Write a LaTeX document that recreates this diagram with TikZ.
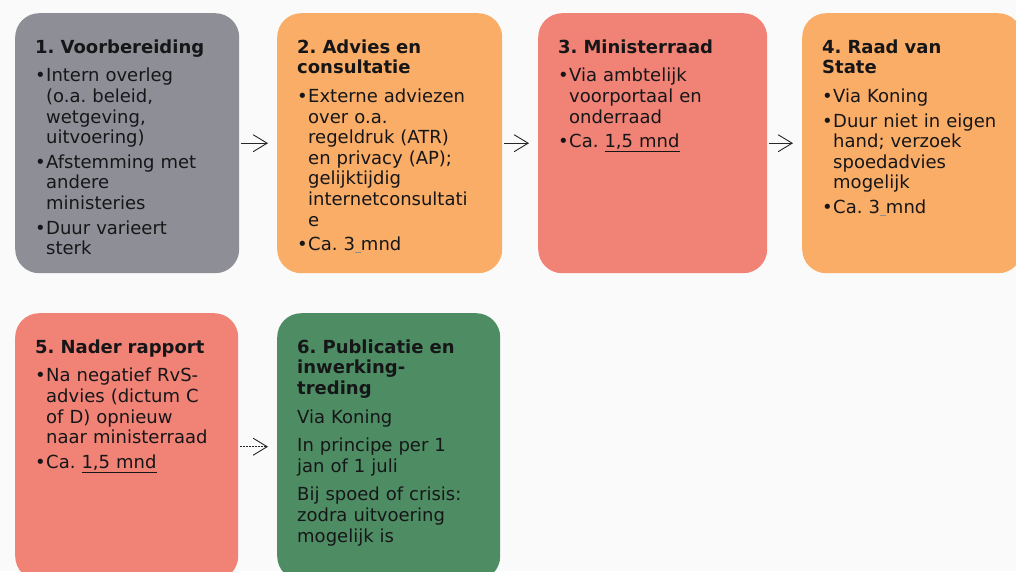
\documentclass[tikz,border=0pt]{standalone}
\usepackage{fontspec}
\setmainfont{DejaVu Sans}
\usetikzlibrary{arrows.meta}

\definecolor{achtergrond}{RGB}{250,250,250}
\definecolor{grijs}{RGB}{142,143,150}
\definecolor{oranje}{RGB}{250,173,103}
\definecolor{zalm}{RGB}{240,130,118}
\definecolor{groen}{RGB}{78,141,100}
\definecolor{inkt}{RGB}{22,22,24}

% kop, opsommingsteken en gewone alinea in een vak
\newcommand{\kop}[1]{\noindent\textbf{#1}\par\addvspace{8pt}}
\newcommand{\punt}{\par\addvspace{4pt}\hangindent=11pt\hangafter=1\noindent\makebox[11pt][l]{\textbullet}}
\newcommand{\alinea}{\par\addvspace{8pt}\noindent}
\newcommand{\streep}{{\color{black!45}\underline{\ }}}

\tikzset{
  vak/.style={anchor=north west, rounded corners=24pt, inner xsep=20pt, inner ysep=13pt,
    text height=27pt, text depth=207pt, align=left, text=inkt,
    font=\fontsize{18pt}{20.6pt}\selectfont\frenchspacing},
  pijl/.style={draw=black!85, line width=0.9pt, shorten <=2pt, shorten >=9pt,
    -{Straight Barb[length=14pt,width=17pt]}}
}

\begin{document}
\begin{tikzpicture}[x=1pt,y=1pt]
  \clip (0,0) rectangle (1016,-571);
  \fill[achtergrond] (0,0) rectangle (1016,-571);

  % bovenste rij
  \node[vak, fill=grijs, text width=184pt] (voorb) at (15,-13) {%
    \kop{1. Voorbereiding}
    \punt Intern overleg\newline (o.a. beleid,\newline wetgeving,\newline uitvoering)
    \punt Afstemming met\newline andere\newline ministeries
    \punt Duur varieert\newline sterk\par};
  \node[vak, fill=oranje, text width=185pt] (advies) at (277,-13) {%
    \kop{2. Advies en\newline consultatie}
    \punt Externe adviezen\newline over o.a.\newline regeldruk (ATR)\newline en privacy (AP);\newline gelijktijdig\newline internetconsultati\newline e
    \punt Ca. 3\streep mnd\par};
  \node[vak, fill=zalm, text width=189pt] (minraad) at (538,-13) {%
    \kop{3. Ministerraad}
    \punt Via ambtelijk\newline voorportaal en\newline onderraad
    \punt Ca. \underline{1,5 mnd}\par};
  \node[vak, fill=oranje, text width=180pt] (rvs) at (802,-13) {%
    \kop{4. Raad van\newline State}
    \punt Via Koning
    \punt Duur niet in eigen\newline hand; verzoek\newline spoedadvies\newline mogelijk
    \punt Ca. 3\streep mnd\par};

  % onderste rij
  \node[vak, fill=zalm, text width=183pt, text depth=214pt] (rapport) at (15,-313) {%
    \kop{5. Nader rapport}
    \punt Na negatief RvS-\newline advies (dictum C\newline of D) opnieuw\newline naar ministerraad
    \punt Ca. \underline{1,5 mnd}\par};
  \node[vak, fill=groen, text width=183pt, text depth=214pt] (publ) at (277,-313) {%
    \kop{6. Publicatie en\newline inwerking-\newline treding}
    \alinea Via Koning
    \alinea In principe per 1\newline jan of 1 juli
    \alinea Bij spoed of crisis:\newline zodra uitvoering\newline mogelijk is\par};

  \draw[pijl] (voorb.east) -- (advies.west);
  \draw[pijl] (advies.east) -- (minraad.west);
  \draw[pijl] (minraad.east) -- (rvs.west);
  \draw[pijl, dash pattern=on 2pt off 1pt] (rapport.east) -- (publ.west);
\end{tikzpicture}
\end{document}
